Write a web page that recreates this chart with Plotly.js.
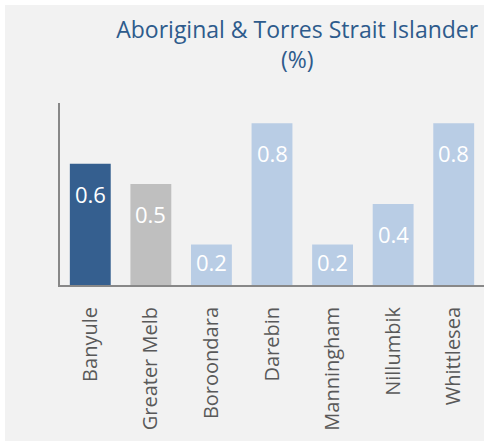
<!DOCTYPE html>
<html>
<head>
<meta charset="utf-8">
<script src="https://cdn.plot.ly/plotly-3.0.1.min.js"></script>
<style>
  html, body { margin: 0; padding: 0; background: #ffffff; }
  #chart { position: absolute; left: 5px; top: 5px; width: 479px; height: 436px; }
</style>
</head>
<body>
<div id="chart"></div>
<script>
const categories = ["Banyule", "Greater Melb", "Boroondara", "Darebin", "Manningham", "Nillumbik", "Whittlesea"];
const values = [0.6, 0.5, 0.2, 0.8, 0.2, 0.4, 0.8];
const barColors = ["#355f8f", "#bfbfbf", "#b9cde5", "#b9cde5", "#b9cde5", "#b9cde5", "#b9cde5"];
const titleText = "Aboriginal & Torres Strait Islander<br>(%)";

const trace = {
  type: "bar",
  x: categories,
  y: values,
  marker: { color: barColors, line: { width: 0 } },
  hoverinfo: "x+y"
};

const annotations = categories.map((c, i) => ({
  x: c,
  y: values[i],
  xref: "x",
  yref: "y",
  text: values[i].toFixed(1),
  showarrow: false,
  yanchor: "middle",
  xanchor: "center",
  yshift: values[i] >= 0.4 ? -30 : -17,
  font: { family: "Open Sans, sans-serif", size: 22, color: "#ffffff" }
}));

const layout = {
  width: 479,
  height: 436,
  paper_bgcolor: "#f2f2f2",
  plot_bgcolor: "#f2f2f2",
  margin: { l: 55, r: 0, t: 98, b: 155.5, pad: 0 },
  bargap: 0.325,
  showlegend: false,
  title: {
    text: titleText,
    xref: "container",
    yref: "container",
    x: 0.61,
    xanchor: "center",
    y: 0.925,
    yanchor: "top",
    font: { family: "Open Sans, sans-serif", size: 23, color: "#2e5b8c" }
  },
  xaxis: {
    type: "category",
    showline: true,
    linecolor: "#888888",
    linewidth: 2,
    tickangle: -90,
    ticks: "outside",
    ticklen: 12,
    tickcolor: "rgba(0,0,0,0)",
    tickfont: { family: "Open Sans, sans-serif", size: 20, color: "#595959" },
    showgrid: false,
    zeroline: false
  },
  yaxis: {
    range: [0, 0.9],
    showline: true,
    linecolor: "#888888",
    linewidth: 2,
    showticklabels: false,
    ticks: "",
    showgrid: false,
    zeroline: false
  },
  annotations: annotations
};

Plotly.newPlot("chart", [trace], layout, { displayModeBar: false, staticPlot: true });
</script>
</body>
</html>
